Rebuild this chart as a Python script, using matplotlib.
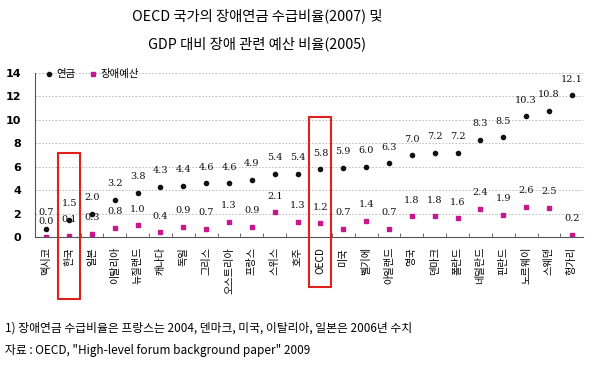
import matplotlib
matplotlib.use("Agg")
import matplotlib.pyplot as plt
from matplotlib.patches import Rectangle

plt.rcParams['font.family'] = ['Noto Sans CJK KR', 'DejaVu Sans']

countries = ["멕시코", "한국", "일본", "이탈리아", "뉴질랜드", "캐나다", "독일", "그리스",
             "오스트리아", "프랑스", "스위스", "호주", "OECD", "미국", "벨기에", "아일랜드",
             "영국", "덴마크", "폴란드", "네덜란드", "핀란드", "노르웨이", "스웨덴", "헝가리"]
pension = [0.7, 1.5, 2.0, 3.2, 3.8, 4.3, 4.4, 4.6, 4.6, 4.9, 5.4, 5.4, 5.8, 5.9, 6.0, 6.3,
           7.0, 7.2, 7.2, 8.3, 8.5, 10.3, 10.8, 12.1]
budget = [0.0, 0.1, 0.3, 0.8, 1.0, 0.4, 0.9, 0.7, 1.3, 0.9, 2.1, 1.3, 1.2, 0.7, 1.4, 0.7,
          1.8, 1.8, 1.6, 2.4, 1.9, 2.6, 2.5, 0.2]
highlight = ["한국", "OECD"]
yticks = [0, 2, 4, 6, 8, 10, 12, 14]

fig = plt.figure(figsize=(6.0, 3.67), dpi=100)
ax = fig.add_axes([0.058, 0.354, 0.914, 0.447])

x = list(range(len(countries)))
ax.plot(x, pension, linestyle='none', marker='o', markersize=3, color='#111111', label='연금')
ax.plot(x, budget, linestyle='none', marker='s', markersize=3.5, color='#C8168E', label='장애예산')

lab_font = dict(family=['DejaVu Serif'], fontsize=7, color='#111111')
for xi, p, b in zip(x, pension, budget):
    ax.annotate(f"{p:.1f}", (xi, p), xytext=(0, 11.5), textcoords='offset points',
                ha='center', va='center', **lab_font)
    ax.annotate(f"{b:.1f}", (xi, b), xytext=(0, 11.5), textcoords='offset points',
                ha='center', va='center', **lab_font)

ax.set_xlim(-0.5, len(countries) - 0.5)
ax.set_ylim(0, 14)
ax.set_yticks(yticks)
ax.set_yticklabels([str(v) for v in yticks], fontsize=8, fontweight='bold', family=['DejaVu Sans'])
ax.yaxis.grid(True, linestyle=(0, (2, 2)), color='#b5b5b5', linewidth=0.6)
ax.set_axisbelow(True)
ax.spines['top'].set_visible(False)
ax.spines['right'].set_visible(False)
ax.spines['left'].set_color('#555555')
ax.spines['bottom'].set_color('#555555')
ax.tick_params(axis='y', length=0, pad=10)

ax.set_xticks([i + 0.5 for i in x[:-1]], minor=True)
ax.set_xticks(x)
ax.set_xticklabels(countries, rotation=90, fontsize=7.3, va='top', ha='center')
ax.tick_params(axis='x', which='major', length=0, pad=7)
ax.tick_params(axis='x', which='minor', length=3, direction='in', color='#555555')

ax.legend(loc='upper left', bbox_to_anchor=(0.005, 1.06), ncol=2, frameon=False,
          fontsize=7.5, handletextpad=0.2, columnspacing=1.2, handlelength=1.0,
          borderaxespad=0.2)

# highlight boxes
box = {"한국": (7.2, -5.25), "OECD": (10.25, -4.25)}
for name in highlight:
    i = countries.index(name)
    top, bot = box[name]
    ax.add_patch(Rectangle((i - 0.48, bot), 0.96, top - bot, fill=False,
                           edgecolor='#E0201B', linewidth=1.5, clip_on=False, zorder=5))

fig.text(0.428, 0.958, "OECD 국가의 장애연금 수급비율(2007) 및", ha='center', va='center', fontsize=10.3)
fig.text(0.428, 0.882, "GDP 대비 장애 관련 예산 비율(2005)", ha='center', va='center', fontsize=10.3)

fig.text(0.008, 0.106, "1) 장애연금 수급비율은 프랑스는 2004, 덴마크, 미국, 이탈리아, 일본은 2006년 수치",
         ha='left', va='center', fontsize=8.5)
fig.text(0.008, 0.046, "자료 : OECD, \"High-level forum background paper\" 2009",
         ha='left', va='center', fontsize=8.5)

fig.savefig("out.png", dpi=100)
